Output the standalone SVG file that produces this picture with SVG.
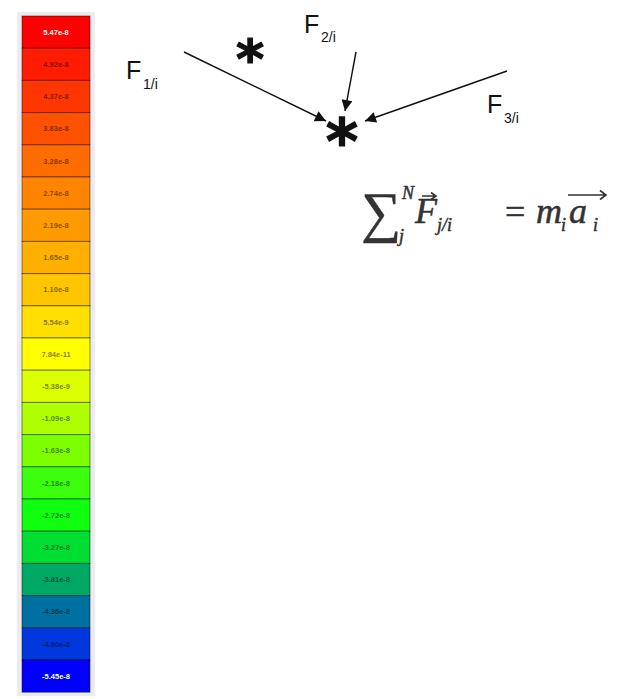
<svg xmlns="http://www.w3.org/2000/svg" width="619" height="699" viewBox="0 0 619 699">
<defs>
<style>
.cell{stroke:#000;stroke-opacity:0.45;stroke-width:1}
.lbl{font-family:"Liberation Sans",Arial,sans-serif;font-size:7.5px;font-weight:bold;text-anchor:middle;fill:#000;fill-opacity:0.5}
.lblw{font-family:"Liberation Sans",Arial,sans-serif;font-size:7.5px;text-anchor:middle;fill:#fff;font-weight:bold}
.F{font-family:"Liberation Sans",Arial,sans-serif;font-size:25px;fill:#111}
.sub{font-family:"Liberation Sans",Arial,sans-serif;font-size:14px;fill:#111}
.ast{font-family:"DejaVu Sans",sans-serif;font-weight:bold;fill:#111;stroke:#111;stroke-width:1.2;text-anchor:middle}
.eq{font-family:"Liberation Serif","Times New Roman",serif;fill:#333;stroke:#333;stroke-width:0.5}
.conn{stroke:#111;stroke-width:1.4;fill:none}
</style>
<marker id="ah" viewBox="0 0 10 10" refX="10" refY="5" markerWidth="13" markerHeight="11" markerUnits="userSpaceOnUse" orient="auto">
<path d="M0,0 L10,5 L0,10 z" fill="#111"/>
</marker>
</defs>
<rect width="619" height="699" fill="#fff"/>
<g id="colorbar">
<rect x="17" y="12" width="78" height="684" fill="#ececf0"/>
<rect class="cell" x="22" y="16" width="68" height="32.2" fill="#ff0000"/>
<rect class="cell" x="22" y="48.2" width="68" height="32.2" fill="#ff1c00"/>
<rect class="cell" x="22" y="80.4" width="68" height="32.2" fill="#ff3600"/>
<rect class="cell" x="22" y="112.6" width="68" height="32.2" fill="#ff5200"/>
<rect class="cell" x="22" y="144.8" width="68" height="32.2" fill="#ff6d00"/>
<rect class="cell" x="22" y="177" width="68" height="32.2" fill="#ff8500"/>
<rect class="cell" x="22" y="209.2" width="68" height="32.2" fill="#ff9a00"/>
<rect class="cell" x="22" y="241.4" width="68" height="32.2" fill="#ffaf00"/>
<rect class="cell" x="22" y="273.6" width="68" height="32.2" fill="#ffc500"/>
<rect class="cell" x="22" y="305.8" width="68" height="32.2" fill="#ffdf00"/>
<rect class="cell" x="22" y="338" width="68" height="32.2" fill="#ffff00"/>
<rect class="cell" x="22" y="370.2" width="68" height="32.2" fill="#dcff00"/>
<rect class="cell" x="22" y="402.4" width="68" height="32.2" fill="#b0ff00"/>
<rect class="cell" x="22" y="434.6" width="68" height="32.2" fill="#7dff00"/>
<rect class="cell" x="22" y="466.8" width="68" height="32.2" fill="#3cff10"/>
<rect class="cell" x="22" y="499" width="68" height="32.2" fill="#10ff10"/>
<rect class="cell" x="22" y="531.2" width="68" height="32.2" fill="#00dd33"/>
<rect class="cell" x="22" y="563.4" width="68" height="32.2" fill="#00a866"/>
<rect class="cell" x="22" y="595.6" width="68" height="32.2" fill="#0070a0"/>
<rect class="cell" x="22" y="627.8" width="68" height="32.2" fill="#0038dd"/>
<rect class="cell" x="22" y="660" width="68" height="32.2" fill="#0000ff"/>
<text class="lblw" x="56" y="34.8">5.47e-8</text>
<text class="lbl" x="56" y="67">4.92e-8</text>
<text class="lbl" x="56" y="99.2">4.37e-8</text>
<text class="lbl" x="56" y="131.4">3.83e-8</text>
<text class="lbl" x="56" y="163.6">3.28e-8</text>
<text class="lbl" x="56" y="195.8">2.74e-8</text>
<text class="lbl" x="56" y="228">2.19e-8</text>
<text class="lbl" x="56" y="260.2">1.65e-8</text>
<text class="lbl" x="56" y="292.4">1.10e-8</text>
<text class="lbl" x="56" y="324.6">5.54e-9</text>
<text class="lbl" x="56" y="356.8">7.84e-11</text>
<text class="lbl" x="56" y="389">-5.38e-9</text>
<text class="lbl" x="56" y="421.2">-1.09e-8</text>
<text class="lbl" x="56" y="453.4">-1.63e-8</text>
<text class="lbl" x="56" y="485.6">-2.18e-8</text>
<text class="lbl" x="56" y="517.8">-2.72e-8</text>
<text class="lbl" x="56" y="550">-3.27e-8</text>
<text class="lbl" x="56" y="582.2">-3.81e-8</text>
<text class="lbl" x="56" y="614.4">-4.36e-8</text>
<text class="lbl" x="56" y="646.6">-4.90e-8</text>
<text class="lblw" x="56" y="678.8">-5.45e-8</text>
</g>
<g id="connectors">
<line class="conn" x1="184" y1="52" x2="326" y2="121" marker-end="url(#ah)"/>
<line class="conn" x1="356" y1="52" x2="345" y2="111" marker-end="url(#ah)"/>
<line class="conn" x1="507" y1="71" x2="365" y2="121" marker-end="url(#ah)"/>
</g>
<g id="F1">
<text class="F" x="126" y="79">F</text>
<text class="sub" x="143" y="89">1/i</text>
</g>
<g id="F2">
<text class="F" x="304" y="33">F</text>
<text class="sub" x="321" y="42">2/i</text>
</g>
<g id="F3">
<text class="F" x="487" y="113">F</text>
<text class="sub" x="504" y="123">3/i</text>
</g>
<g id="particle-j">
<text class="ast" x="250" y="78" font-size="54">*</text>
</g>
<g id="particle-i">
<text class="ast" x="342" y="163" font-size="62">*</text>
</g>
<g id="equation">
<text class="eq" x="361" y="231" font-size="56" stroke-width="1.6">∑</text>
<text class="eq" x="402" y="199" font-size="18" font-style="italic">N</text>
<text class="eq" x="399" y="242" font-size="18" font-style="italic">j</text>
<text class="eq" x="415" y="223" font-size="36" font-style="italic">F</text>
<text class="eq" x="437" y="231" font-size="18" font-style="italic">j/i</text>
<text class="eq" x="505" y="224" font-size="36">=</text>
<text class="eq" x="536" y="223" font-size="36" font-style="italic">m</text>
<text class="eq" x="561" y="231" font-size="18" font-style="italic">i</text>
<text class="eq" x="569" y="223" font-size="36" font-style="italic">a</text>
<text class="eq" x="593" y="231" font-size="18" font-style="italic">i</text>
<path d="M422,196 L436,196 M431,192.5 L436,196 L431,199.5" stroke="#333" stroke-width="1.6" fill="none"/>
<path d="M568,195 L606,195 M600,190.5 L606,195 L600,199.5" stroke="#333" stroke-width="1.6" fill="none"/>
</g>
</svg>
